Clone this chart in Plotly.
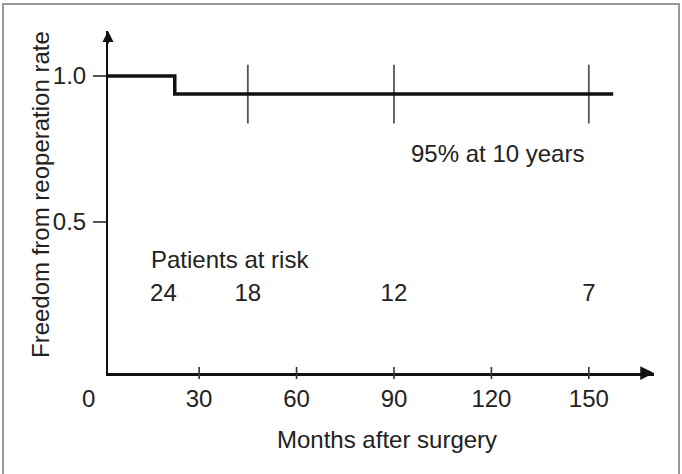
import plotly.graph_objects as go

# ---- data ----
curve_months = [0, 22.5, 157.5]
curve_freedom = [1.0, 0.938, 0.938]
censor_months = [45, 90, 150]
censor_freedom = [0.938, 0.938, 0.938]
risk_months = [19, 45, 90, 150]
risk_counts = [24, 18, 12, 7]
x_tick_vals = [30, 60, 90, 120, 150]
y_tick_vals = [0.5, 1.0]
y_tick_text = ["0.5", "1.0"]

FONT = "Liberation Sans, Arial, sans-serif"
TXT = "#222222"
FS = 24

X_RANGE = [1.94, 170.07]
Y_RANGE = [-0.0171, 1.1541]

fig = go.Figure()

# censor marks
fig.add_trace(go.Scatter(
    x=censor_months, y=censor_freedom, mode="markers",
    marker=dict(symbol="line-ns-open", size=42, color="#555555",
                line=dict(width=1.8, color="#555555")),
    hoverinfo="skip", showlegend=False, cliponaxis=False))

# survival step curve
fig.add_trace(go.Scatter(
    x=curve_months, y=curve_freedom, mode="lines",
    line=dict(color="#111111", width=3.5, shape="hv"),
    hoverinfo="skip", showlegend=False))

# patients at risk numbers
fig.add_trace(go.Scatter(
    x=risk_months, y=[0.251] * len(risk_months), mode="text",
    text=[str(c) for c in risk_counts],
    textfont=dict(family=FONT, size=FS, color=TXT),
    textposition="middle center", hoverinfo="skip", showlegend=False,
    cliponaxis=False))

shapes = []
# x ticks crossing the axis
for v in x_tick_vals:
    shapes.append(dict(type="line", xref="x", yref="y domain",
                       x0=v, x1=v, y0=-6 / 342, y1=6 / 342,
                       line=dict(color="#333333", width=1.6)))
# outer frame
shapes.append(dict(type="rect", xref="paper", yref="paper",
                   x0=(3 - 108) / 546, x1=(679 - 108) / 546,
                   y0=-0.32, y1=(373 - 4) / 342,
                   line=dict(color="#999999", width=2), fillcolor="rgba(0,0,0,0)",
                   layer="below"))

annotations = [
    # axis arrows
    dict(x=X_RANGE[0], y=Y_RANGE[1], xref="x", yref="y", text="",
         showarrow=True, ax=0, ay=14, arrowhead=2, arrowsize=1.1,
         arrowwidth=2, arrowcolor="#111111"),
    dict(x=X_RANGE[1], y=Y_RANGE[0], xref="x", yref="y", text="",
         showarrow=True, ax=-14, ay=0, arrowhead=2, arrowsize=1.1,
         arrowwidth=2.5, arrowcolor="#111111"),
    # origin label
    dict(x=(88 - 108) / 546, y=(373 - 398) / 342, xref="paper", yref="paper",
         text="0", showarrow=False, xanchor="center", yanchor="middle",
         font=dict(family=FONT, size=FS, color=TXT)),
    dict(x=122, y=0.733, xref="x", yref="y", text="95% at 10 years",
         showarrow=False, xanchor="center", yanchor="middle",
         font=dict(family=FONT, size=FS, color=TXT)),
    dict(x=15.4, y=0.373, xref="x", yref="y", text="Patients at risk",
         showarrow=False, xanchor="left", yanchor="middle", xshift=-3,
         font=dict(family=FONT, size=FS, color=TXT)),
    # axis titles
    dict(x=(387 - 108) / 546, y=(373 - 439.5) / 342, xref="paper", yref="paper",
         text="Months after surgery", showarrow=False, xanchor="center",
         yanchor="middle", font=dict(family=FONT, size=FS, color=TXT)),
    dict(x=(40 - 108) / 546, y=(373 - 195) / 342, xref="paper", yref="paper",
         text="Freedom from reoperation rate", showarrow=False, textangle=-90,
         xanchor="center", yanchor="middle",
         font=dict(family=FONT, size=FS, color=TXT)),
]

fig.update_layout(
    width=682, height=474,
    margin=dict(l=108, r=28, t=31, b=101, pad=0),
    paper_bgcolor="white", plot_bgcolor="white",
    font=dict(family=FONT, size=FS, color=TXT),
    shapes=shapes, annotations=annotations, showlegend=False,
    xaxis=dict(range=X_RANGE, showgrid=False, zeroline=False,
               showline=True, linecolor="#111111", linewidth=2.5,
               tickvals=x_tick_vals, ticks="", ticklabelstandoff=2,
               tickfont=dict(family=FONT, size=FS, color=TXT), fixedrange=True),
    yaxis=dict(range=Y_RANGE, showgrid=False, zeroline=False,
               showline=True, linecolor="#111111", linewidth=2,
               tickvals=y_tick_vals, ticktext=y_tick_text, ticks="outside",
               ticklen=13, tickwidth=1.5, tickcolor="#555555",
               ticklabelstandoff=2,
               tickfont=dict(family=FONT, size=FS, color=TXT), fixedrange=True),
)

fig.write_html("out.html", config={"displayModeBar": False})
